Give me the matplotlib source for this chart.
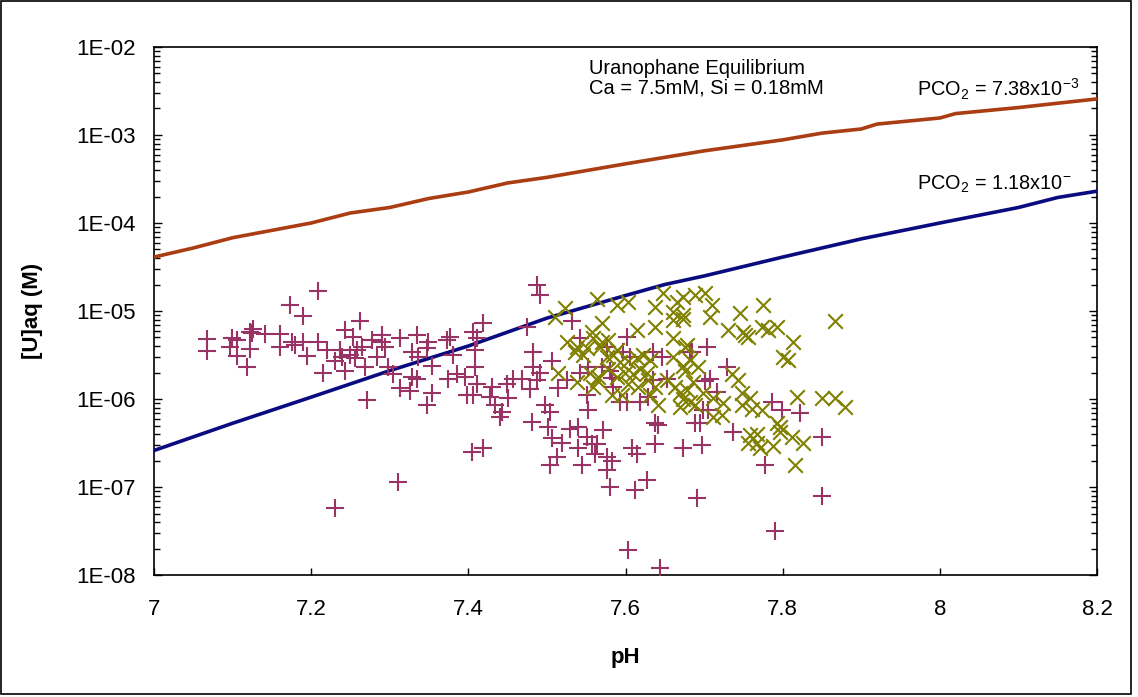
import math
import matplotlib.pyplot as plt
from matplotlib.patches import Rectangle
from matplotlib.ticker import LogLocator, FixedLocator, FuncFormatter, NullFormatter

plt.rcParams['font.family'] = ['Liberation Sans', 'DejaVu Sans']
plt.rcParams['mathtext.default'] = 'regular'

# equilibrium curves
ph_curve = [7.0, 7.05, 7.1, 7.2, 7.25, 7.3, 7.35, 7.4, 7.45, 7.5, 7.6, 7.7, 7.8, 7.85, 7.9, 7.92, 8.0, 8.02, 8.1, 8.2]
u_high = [4.1e-5, 5.2e-5, 6.8e-5, 1.0e-4, 1.3e-4, 1.5e-4, 1.9e-4, 2.25e-4, 2.85e-4, 3.3e-4,
          4.7e-4, 6.6e-4, 8.8e-4, 1.05e-3, 1.17e-3, 1.33e-3, 1.56e-3, 1.75e-3, 2.05e-3, 2.57e-3]
ph_low = [7.0, 7.1, 7.2, 7.3, 7.4, 7.5, 7.6, 7.65, 7.7, 7.8, 7.9, 8.0, 8.1, 8.15, 8.2]
u_low = [2.6e-7, 5.3e-7, 1.05e-6, 2.1e-6, 4.0e-6, 8.3e-6, 1.5e-5, 2.0e-5, 2.5e-5,
         4.1e-5, 6.6e-5, 1.0e-4, 1.5e-4, 1.95e-4, 2.3e-4]

# groundwater samples (+)
ph_a = [7.067, 7.067, 7.099, 7.097, 7.106, 7.106, 7.118, 7.122, 7.122, 7.126, 7.125, 7.141, 7.160, 7.160,
        7.173, 7.190, 7.209, 7.176, 7.179, 7.190, 7.195, 7.209, 7.215, 7.220, 7.230, 7.237, 7.243, 7.243,
        7.239, 7.230,
        7.262, 7.253, 7.249, 7.258, 7.265, 7.256, 7.269, 7.277, 7.290, 7.290, 7.294, 7.284, 7.298, 7.304,
        7.313, 7.328, 7.335, 7.336, 7.349, 7.347, 7.354, 7.328, 7.335, 7.313, 7.326, 7.354, 7.347, 7.271,
        7.373, 7.377, 7.381, 7.374, 7.386, 7.396, 7.398, 7.406, 7.411, 7.408, 7.408, 7.411, 7.406, 7.419,
        7.430, 7.428, 7.434, 7.443, 7.440, 7.450, 7.449, 7.457, 7.468, 7.478, 7.482, 7.482, 7.475, 7.481,
        7.405, 7.419, 7.311, 7.487, 7.491,
        7.532, 7.542, 7.602, 7.506, 7.491, 7.487, 7.514, 7.526, 7.542, 7.552, 7.576, 7.580, 7.570, 7.597,
        7.606, 7.635, 7.646, 7.682, 7.551, 7.552, 7.583, 7.584, 7.593, 7.602, 7.618, 7.629, 7.635, 7.653,
        7.498, 7.504, 7.501, 7.506, 7.519, 7.529, 7.540, 7.551, 7.557, 7.564, 7.571, 7.540, 7.561, 7.576,
        7.583, 7.576, 7.513, 7.504, 7.545, 7.608, 7.615, 7.638, 7.641, 7.638, 7.673, 7.627, 7.580, 7.612,
        7.691, 7.603, 7.644,
        7.704, 7.685, 7.729, 7.701, 7.708, 7.716, 7.699, 7.705, 7.688, 7.695, 7.786, 7.799, 7.822, 7.737,
        7.697, 7.778, 7.850, 7.850, 7.790]
u_a = [4.8e-6, 3.5e-6, 4.9e-6, 3.9e-6, 4.7e-6, 3.1e-6, 2.3e-6, 3.7e-6, 5.8e-6, 6.2e-6, 5.6e-6, 5.5e-6, 5.5e-6, 3.9e-6,
       1.17e-5, 8.8e-6, 1.7e-5, 4.5e-6, 4.1e-6, 4.5e-6, 3.1e-6, 4.4e-6, 1.95e-6, 3.6e-6, 2.7e-6, 3.6e-6, 6.1e-6, 2.1e-6,
       3.0e-6, 5.8e-8,
       7.6e-6, 5.1e-6, 3.2e-6, 3.6e-6, 3.9e-6, 2.9e-6, 2.3e-6, 4.7e-6, 5.3e-6, 4.5e-6, 3.9e-6, 3.0e-6, 2.3e-6, 1.9e-6,
       4.9e-6, 3.4e-6, 5.3e-6, 3.0e-6, 4.5e-6, 3.8e-6, 2.4e-6, 1.8e-6, 1.7e-6, 1.33e-6, 1.22e-6, 1.16e-6, 8.6e-7, 9.7e-7,
       4.7e-6, 5.0e-6, 3.2e-6, 1.7e-6, 1.9e-6, 1.8e-6, 1.11e-6, 5.8e-6, 4.9e-6, 3.6e-6, 2.3e-6, 1.5e-6, 1.11e-6, 7.3e-6,
       1.37e-6, 1.05e-6, 8.6e-7, 7.1e-7, 6.2e-7, 1.02e-6, 1.5e-6, 1.7e-6, 1.7e-6, 1.31e-6, 3.4e-6, 2.3e-6, 6.5e-6, 5.5e-7,
       2.5e-7, 2.8e-7, 1.13e-7, 2.0e-5, 1.52e-5,
       7.6e-6, 4.9e-6, 5.0e-6, 2.7e-6, 2.0e-6, 1.64e-6, 1.33e-6, 1.64e-6, 2.0e-6, 2.3e-6, 3.9e-6, 2.1e-6, 2.3e-6, 3.4e-6,
       3.0e-6, 3.4e-6, 3.0e-6, 3.4e-6, 1.11e-6, 7.5e-7, 1.75e-6, 1.37e-6, 9.3e-7, 9.3e-7, 9.3e-7, 1.05e-6, 1.64e-6, 1.7e-6,
       8.6e-7, 7.1e-7, 4.8e-7, 3.6e-7, 3.2e-7, 4.6e-7, 4.8e-7, 3.7e-7, 3.1e-7, 3.1e-7, 4.4e-7, 2.8e-7, 2.4e-7, 2.2e-7,
       2.0e-7, 1.56e-7, 2.2e-7, 1.8e-7, 1.8e-7, 2.8e-7, 2.4e-7, 5.4e-7, 5.1e-7, 3.1e-7, 2.8e-7, 1.2e-7, 1.0e-7, 9.2e-8,
       7.5e-8, 1.9e-8, 1.2e-8,
       3.9e-6, 3.4e-6, 2.3e-6, 1.6e-6, 1.7e-6, 1.2e-6, 7.5e-7, 7.5e-7, 5.3e-7, 5.3e-7, 9.2e-7, 7.5e-7, 6.9e-7, 4.2e-7,
       3.0e-7, 1.78e-7, 3.7e-7, 8.0e-8, 3.2e-8]

# second sample set (x)
ph_b = [7.510, 7.523, 7.564, 7.589, 7.603, 7.648, 7.638, 7.660, 7.673, 7.570, 7.638, 7.615, 7.660, 7.676,
        7.526, 7.538, 7.551, 7.559, 7.568, 7.536, 7.546, 7.576, 7.584, 7.593, 7.603, 7.615, 7.622, 7.631,
        7.660, 7.673, 7.514, 7.538, 7.555, 7.565, 7.578, 7.589, 7.599, 7.610, 7.618, 7.627, 7.603, 7.616,
        7.629, 7.638, 7.653, 7.663, 7.669, 7.669, 7.583, 7.596, 7.641, 7.559,
        7.688, 7.701, 7.710, 7.708, 7.746, 7.775, 7.730, 7.750, 7.756, 7.774, 7.781, 7.793, 7.813, 7.800,
        7.807, 7.673, 7.678, 7.682, 7.692, 7.676, 7.686, 7.678, 7.699, 7.711, 7.724, 7.736, 7.743, 7.748,
        7.758, 7.748, 7.761, 7.774, 7.723, 7.711, 7.818, 7.850, 7.867, 7.879, 7.793, 7.797, 7.758, 7.767,
        7.756, 7.771, 7.788, 7.812, 7.826, 7.816, 7.867,
        7.666, 7.660, 7.557, 7.570, 7.578, 7.589, 7.564, 7.752, 7.797, 7.767, 7.673, 7.682, 7.631, 7.673,
        7.688]
u_b = [8.6e-6, 1.07e-5, 1.36e-5, 1.17e-5, 1.26e-5, 1.6e-5, 1.1e-5, 9.8e-6, 8.2e-6, 7.3e-6, 6.5e-6, 6.1e-6, 4.9e-6, 3.9e-6,
       4.5e-6, 3.9e-6, 3.8e-6, 4.9e-6, 3.9e-6, 3.4e-6, 3.2e-6, 3.0e-6, 3.2e-6, 2.6e-6, 2.7e-6, 2.9e-6, 3.2e-6, 2.8e-6,
       3.0e-6, 2.4e-6, 2.0e-6, 1.55e-6, 2.0e-6, 1.8e-6, 2.2e-6, 1.8e-6, 2.0e-6, 1.9e-6, 2.2e-6, 2.0e-6, 1.5e-6, 1.37e-6,
       1.64e-6, 1.37e-6, 1.64e-6, 1.37e-6, 1.17e-6, 8.2e-7, 1.11e-6, 1.11e-6, 8.6e-7, 1.37e-6,
       1.52e-5, 1.6e-5, 1.17e-5, 8.6e-6, 9.4e-6, 1.17e-5, 6.1e-6, 5.8e-6, 5.1e-6, 6.5e-6, 6.1e-6, 6.5e-6, 4.4e-6, 3.0e-6,
       2.8e-6, 9.0e-6, 4.1e-6, 2.8e-6, 2.3e-6, 2.1e-6, 1.57e-6, 1.26e-6, 1.17e-6, 1.02e-6, 9.0e-7, 1.9e-6, 1.64e-6, 1.17e-6,
       1.02e-6, 8.6e-7, 7.8e-7, 7.5e-7, 6.6e-7, 6.3e-7, 1.05e-6, 1.02e-6, 1.02e-6, 8.2e-7, 5.4e-7, 4.2e-7, 3.9e-7, 4.0e-7,
       3.2e-7, 2.8e-7, 2.9e-7, 3.7e-7, 3.2e-7, 1.78e-7, 7.6e-6,
       1.25e-5, 7.9e-6, 5.8e-6, 4.5e-6, 4.7e-6, 3.6e-6, 1.64e-6, 5.3e-6, 4.8e-7, 3.2e-7, 1.45e-5, 9.3e-7, 1.11e-6, 1.0e-6,
       8.6e-7]

y_ticks = [1e-8, 1e-7, 1e-6, 1e-5, 1e-4, 1e-3, 1e-2]
x_ticks = [7, 7.2, 7.4, 7.6, 7.8, 8, 8.2]
x_labels = ['7', '7.2', '7.4', '7.6', '7.8', '8', '8.2']

fig = plt.figure(figsize=(11.38, 6.97), dpi=100)
ax = fig.add_axes([0.1353, 0.175, 0.8287, 0.7576])

ax.plot(ph_curve, u_high, color='#AA3D12', lw=2.6, zorder=3)
ax.plot(ph_low, u_low, color='#0B0B80', lw=2.6, zorder=3)
ax.scatter(ph_a, u_a, marker='+', s=150, color='#993366', linewidths=1.5, zorder=4)
ax.scatter(ph_b, u_b, marker='x', s=110, color='#808000', linewidths=1.5, zorder=5)

ax.set_yscale('log')
ax.set_xlim(7, 8.2)
ax.set_ylim(1e-8, 1e-2)
ax.yaxis.set_major_locator(FixedLocator(y_ticks))
ax.yaxis.set_major_formatter(FuncFormatter(lambda v, p: '1E-%02d' % round(-math.log10(v))))
ax.yaxis.set_minor_locator(LogLocator(base=10, subs=range(2, 10)))
ax.yaxis.set_minor_formatter(NullFormatter())
ax.set_xticks(x_ticks)
ax.set_xticklabels(x_labels)
ax.tick_params(axis='both', which='both', direction='in', labelsize=16, width=1)
ax.tick_params(axis='y', which='major', length=6, right=True, pad=13)
ax.tick_params(axis='y', which='minor', length=4, right=True)
ax.tick_params(axis='x', which='major', length=5, pad=17)
for s in ax.spines.values():
    s.set_linewidth(1.2)

ax.set_xlabel('pH', fontsize=16, fontweight='bold', labelpad=20)
ax.set_ylabel('[U]aq (M)', fontsize=16, fontweight='bold', labelpad=24)

ax.text(7.553, 4.4e-3, 'Uranophane Equilibrium\nCa = 7.5mM, Si = 0.18mM', fontsize=14.5,
        ha='left', va='center', linespacing=1.05)
ax.text(8.178, 3.3e-3, 'PCO$_2$ = 7.38x10$^{-3}$', fontsize=14.3, ha='right', va='center')
ax.text(8.168, 2.75e-4, 'PCO$_2$ = 1.18x10$^{-}$', fontsize=14.3, ha='right', va='center')

fig.patches.append(Rectangle((0.001, 0.004), 0.9925, 0.994, transform=fig.transFigure,
                             fill=False, edgecolor='black', lw=1.2))

fig.savefig('out.png', dpi=100)
